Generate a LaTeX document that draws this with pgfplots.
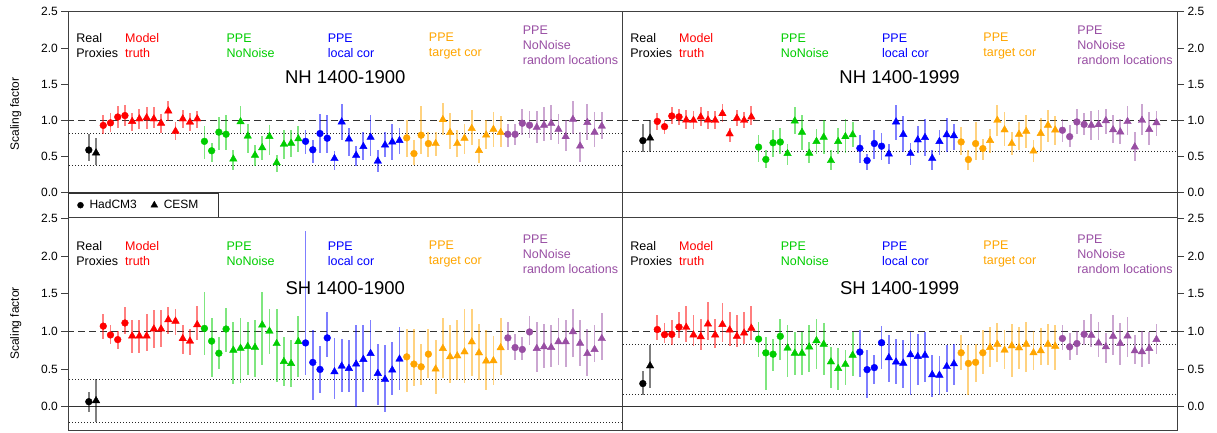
\documentclass[border=0pt]{standalone}
\usepackage{pgfplots}
\pgfplotsset{compat=1.18}
\usepackage{pgfplotstable}
\usepackage{fontspec}
\setmainfont{Liberation Sans}
\definecolor{cRed}{RGB}{255,0,0}
\definecolor{cGreen}{RGB}{0,205,0}
\definecolor{cBlue}{RGB}{0,0,255}
\definecolor{cOrange}{RGB}{255,165,0}
\definecolor{cPurple}{RGB}{152,78,163}

\pgfplotstableread{
i v lo hi
1 0.59 0.44 0.815
2 0.55 0.38 0.75
3 0.93 0.816 1.069
4 0.965 0.839 1.10
5 1.046 0.899 1.198
6 1.066 0.917 1.207
7 0.985 0.853 1.10
8 1.02 0.885 1.161
9 1.035 0.876 1.184
10 1.02 0.899 1.184
11 0.96 0.825 1.092
12 1.13 0.99 1.267
13 0.85 0.724 0.977
14 1.02 0.899 1.147
15 0.975 0.853 1.101
16 1.02 0.899 1.129
17 0.71 0.471 0.917
18 0.58 0.425 0.687
19 0.837 0.586 1.046
20 0.808 0.586 1.069
21 0.465 0.32 0.595
22 0.98 0.825 1.193
23 0.782 0.549 0.954
24 0.518 0.366 0.655
25 0.622 0.448 0.779
26 0.777 0.517 0.931
27 0.415 0.292 0.517
28 0.669 0.471 0.862
29 0.684 0.494 0.871
30 0.745 0.563 0.917
31 0.71 0.54 0.871
32 0.593 0.411 0.733
33 0.818 0.549 1.083
34 0.753 0.549 1.069
35 0.472 0.32 0.577
36 0.978 0.724 1.23
37 0.742 0.503 0.899
38 0.516 0.366 0.641
39 0.638 0.448 0.839
40 0.766 0.503 1.069
41 0.437 0.287 0.586
42 0.659 0.494 0.839
43 0.702 0.448 0.954
44 0.721 0.54 0.899
45 0.758 0.494 1.009
46 0.541 0.379 0.733
47 0.795 0.54 1.193
48 0.679 0.494 0.839
49 0.679 0.503 0.839
50 1.01 0.793 1.239
51 0.832 0.609 1.101
52 0.679 0.494 0.862
53 0.753 0.54 0.954
54 0.887 0.655 1.138
55 0.583 0.411 0.747
56 0.797 0.609 1.0
57 0.875 0.632 1.115
58 0.832 0.632 1.055
59 0.808 0.632 0.954
60 0.807 0.655 0.954
61 0.96 0.793 1.161
62 0.933 0.761 1.129
63 0.903 0.687 1.129
64 0.933 0.715 1.184
65 0.955 0.733 1.207
66 0.875 0.678 1.092
67 0.775 0.577 1.0
68 1.013 0.816 1.267
69 0.645 0.425 0.839
70 0.97 0.724 1.23
71 0.835 0.632 1.115
72 0.92 0.747 1.115
}\tabA

\pgfplotstableread{
i v lo hi
1 0.72 0.566 0.945
2 0.755 0.566 1.0
3 0.985 0.871 1.101
4 0.913 0.816 1.009
5 1.06 0.954 1.184
6 1.048 0.931 1.161
7 1.005 0.885 1.138
8 1.0 0.885 1.129
9 1.046 0.917 1.184
10 1.005 0.885 1.129
11 1.0 0.885 1.129
12 1.093 0.977 1.221
13 0.813 0.701 0.899
14 1.03 0.917 1.147
15 1.0 0.899 1.115
16 1.046 0.931 1.193
17 0.63 0.425 0.793
18 0.46 0.347 0.586
19 0.69 0.494 0.862
20 0.70 0.54 0.899
21 0.542 0.379 0.669
22 0.99 0.816 1.184
23 0.835 0.595 1.069
24 0.546 0.411 0.701
25 0.708 0.54 0.885
26 0.767 0.531 1.0
27 0.444 0.32 0.586
28 0.708 0.54 0.899
29 0.775 0.549 1.023
30 0.80 0.632 0.977
31 0.615 0.411 0.793
32 0.445 0.31 0.54
33 0.68 0.471 0.871
34 0.643 0.448 0.825
35 0.535 0.393 0.678
36 0.978 0.724 1.207
37 0.805 0.563 1.055
38 0.541 0.379 0.687
39 0.73 0.549 0.917
40 0.763 0.503 1.023
41 0.475 0.31 0.595
42 0.708 0.517 0.871
43 0.80 0.563 1.037
44 0.787 0.595 0.954
45 0.702 0.517 0.908
46 0.458 0.32 0.586
47 0.679 0.448 0.977
48 0.61 0.448 0.747
49 0.722 0.549 0.885
50 1.0 0.779 1.207
51 0.868 0.641 1.115
52 0.679 0.517 0.839
53 0.808 0.595 0.977
54 0.849 0.623 1.069
55 0.576 0.425 0.733
56 0.818 0.577 1.037
57 0.932 0.701 1.147
58 0.866 0.655 1.055
59 0.863 0.701 1.023
60 0.775 0.632 0.931
61 0.978 0.816 1.161
62 0.944 0.793 1.101
63 0.932 0.733 1.129
64 0.941 0.733 1.147
65 0.995 0.816 1.161
66 0.87 0.687 1.069
67 0.84 0.678 1.023
68 0.983 0.793 1.193
69 0.633 0.439 0.839
70 1.0 0.793 1.221
71 0.873 0.655 1.115
72 0.967 0.779 1.129
}\tabB

\pgfplotstableread{
i v lo hi
1 0.066 -0.066 0.2
2 0.08 -0.21 0.363
3 1.07 0.903 1.234
4 0.953 0.837 1.079
5 0.891 0.77 1.0
6 1.112 0.969 1.322
7 0.939 0.717 1.146
8 0.939 0.717 1.146
9 0.939 0.735 1.234
10 1.032 0.779 1.278
11 1.032 0.792 1.278
12 1.155 0.969 1.322
13 1.136 0.947 1.3
14 0.904 0.704 1.079
15 0.871 0.682 1.035
16 1.089 0.881 1.344
17 1.04 0.685 1.53
18 0.871 0.40 1.18
19 0.71 0.507 0.92
20 1.032 0.73 1.31
21 0.75 0.30 1.13
22 0.776 0.31 1.18
23 0.80 0.42 1.126
24 0.788 0.40 1.148
25 1.085 0.55 1.53
26 1.004 0.70 1.30
27 0.838 0.33 1.30
28 0.60 0.28 0.93
29 0.573 0.265 0.88
30 0.864 0.397 1.20
31 0.847 0.42 2.33
32 0.588 0.089 1.016
33 0.495 0.185 0.804
34 0.914 0.662 1.258
35 0.464 0.098 0.919
36 0.539 0.199 0.905
37 0.508 0.199 0.883
38 0.566 0.0 1.082
39 0.628 0.199 1.082
40 0.707 0.353 1.148
41 0.442 0.022 0.839
42 0.363 -0.07 0.817
43 0.486 0.155 0.861
44 0.632 0.221 1.06
45 0.662 0.199 1.038
46 0.566 0.274 1.038
47 0.53 0.287 0.839
48 0.698 0.376 1.038
49 0.50 0.168 0.883
50 0.773 0.376 1.183
51 0.662 0.309 1.082
52 0.675 0.353 1.148
53 0.728 0.309 1.303
54 0.861 0.406 1.303
55 0.715 0.353 1.104
56 0.607 0.221 1.016
57 0.611 0.287 0.936
58 0.783 0.42 1.183
59 0.914 0.751 1.126
60 0.786 0.619 0.971
61 0.76 0.619 0.927
62 0.993 0.817 1.201
63 0.773 0.464 1.126
64 0.795 0.508 1.104
65 0.786 0.53 1.082
66 0.863 0.552 1.174
67 0.863 0.53 1.152
68 0.996 0.662 1.303
69 0.842 0.539 1.152
70 0.706 0.406 1.038
71 0.76 0.596 1.082
72 0.905 0.619 1.245
}\tabC

\pgfplotstableread{
i v lo hi
1 0.307 0.161 0.478
2 0.542 0.25 0.824
3 1.025 0.89 1.212
4 0.957 0.845 1.11
5 0.961 0.815 1.146
6 1.058 0.916 1.256
7 1.054 0.859 1.344
8 0.953 0.801 1.212
9 0.93 0.757 1.168
10 1.098 0.881 1.389
11 0.953 0.784 1.168
12 1.092 0.859 1.375
13 1.019 0.801 1.256
14 0.935 0.792 1.212
15 0.979 0.837 1.256
16 1.043 0.881 1.344
17 0.898 0.66 1.124
18 0.715 0.227 0.925
19 0.697 0.478 0.903
20 0.935 0.616 1.168
21 0.778 0.40 1.079
22 0.71 0.417 0.991
23 0.71 0.417 0.991
24 0.793 0.461 1.079
25 0.877 0.506 1.168
26 0.829 0.417 1.11
27 0.595 0.254 0.792
28 0.507 0.219 0.784
29 0.562 0.285 0.757
30 0.683 0.404 0.991
31 0.726 0.395 1.022
32 0.492 0.121 0.748
33 0.519 0.307 0.682
34 0.85 0.506 1.066
35 0.651 0.329 0.947
36 0.594 0.307 0.903
37 0.578 0.254 0.881
38 0.69 0.152 0.991
39 0.666 0.285 0.969
40 0.683 0.329 0.991
41 0.425 0.13 0.682
42 0.418 0.152 0.669
43 0.533 0.196 0.815
44 0.569 0.285 0.837
45 0.716 0.483 0.947
46 0.575 0.152 0.815
47 0.589 0.329 0.837
48 0.716 0.439 1.013
49 0.786 0.528 1.057
50 0.83 0.594 1.11
51 0.751 0.506 1.022
52 0.808 0.395 1.101
53 0.781 0.506 1.057
54 0.83 0.461 1.124
55 0.716 0.483 1.004
56 0.742 0.55 1.049
57 0.83 0.55 1.101
58 0.804 0.492 1.079
59 0.906 0.757 1.079
60 0.795 0.625 0.978
61 0.839 0.682 1.004
62 0.962 0.815 1.155
63 0.949 0.792 1.234
64 0.847 0.66 1.124
65 0.795 0.581 0.978
66 0.936 0.682 1.212
67 0.839 0.55 1.11
68 0.94 0.66 1.19
69 0.742 0.572 0.947
70 0.729 0.528 1.004
71 0.773 0.572 0.991
72 0.892 0.704 1.093
}\tabD

\tikzset{glab/.style={anchor=west, inner sep=0pt, align=left, font=\fontsize{12.5}{15}\selectfont}}

\pgfplotsset{
  circ/.style={mark=*, mark size=3.4pt},
  tri/.style={mark=triangle*, mark size=4.3pt},
  panel/.style={
    scale only axis, anchor=south west,
    xmin=-1.84, xmax=74.84,
    xtick=\empty,
    ytick={0,0.5,1,1.5,2,2.5},
    tick align=outside, major tick length=7pt,
    axis line style={black!75, line width=0.8pt},
    every tick/.style={black!75, line width=0.8pt},
    /pgf/number format/assume math mode=true,
    yticklabel style={/pgf/number format/.cd, fixed, fixed zerofill, precision=1, /tikz/.cd, font=\fontsize{12}{14}\selectfont},
    ylabel style={font=\fontsize{12}{14}\selectfont},
  },
  lpanel/.style={panel, width=554pt, ytick pos=left, ylabel={Scaling factor},
    ylabel style={at={(axis description cs:-0.095,0.5)}, anchor=center}},
  rpanel/.style={panel, width=554.7pt, ytick pos=right, yticklabel pos=right},
  top/.style={height=206pt, ymin=-0.335, ymax=2.51},
  bot/.style={height=213pt, ymin=-0.31, ymax=2.52},
}

\newcommand{\pts}[5]{%
\addplot[forget plot, only marks, #5, color=#2, mark options={solid, draw=#2, fill=#2},
  restrict x to domain=#3:#4,
  error bars/.cd, y dir=both, y explicit, error mark=none,
  error bar style={line width=1.8pt, draw=#2, opacity=0.5, solid}]
  table[x=i, y=v, y error plus expr=\thisrow{hi}-\thisrow{v}, y error minus expr=\thisrow{v}-\thisrow{lo}] {#1};}

\newcommand{\allpts}[1]{%
\pts{#1}{black}{0.5}{1.5}{circ}
\pts{#1}{black}{1.5}{2.5}{tri}
\pts{#1}{cRed}{2.5}{6.5}{circ}
\pts{#1}{cRed}{6.5}{16.5}{tri}
\pts{#1}{cGreen}{16.5}{20.5}{circ}
\pts{#1}{cGreen}{20.5}{30.5}{tri}
\pts{#1}{cBlue}{30.5}{34.5}{circ}
\pts{#1}{cBlue}{34.5}{44.5}{tri}
\pts{#1}{cOrange}{44.5}{48.5}{circ}
\pts{#1}{cOrange}{48.5}{58.5}{tri}
\pts{#1}{cPurple}{58.5}{62.5}{circ}
\pts{#1}{cPurple}{62.5}{72.5}{tri}
}

\newcommand{\hlines}[2]{%
\addplot[forget plot, black!80, line width=0.8pt] coordinates {(-5,0) (80,0)};
\addplot[forget plot, black!80, line width=0.9pt, dash pattern=on 7pt off 4pt] coordinates {(-5,1) (80,1)};
\addplot[forget plot, black!85, line width=0.8pt, dash pattern=on 1pt off 2pt] coordinates {(-5,#1) (80,#1)};
\addplot[forget plot, black!85, line width=0.8pt, dash pattern=on 1pt off 2pt] coordinates {(-5,#2) (80,#2)};
}

\newcommand{\grouplabels}[1]{%
\node[glab, text=black] at (axis cs:-0.75,#1) {Real\\Proxies};
\node[glab, text=cRed] at (axis cs:6,#1) {Model\\truth};
\node[glab, text=cGreen] at (axis cs:20.05,#1) {PPE\\NoNoise};
\node[glab, text=cBlue] at (axis cs:34.05,#1) {PPE\\local cor};
\node[glab, text=cOrange] at (axis cs:48.05,#1) {PPE\\target cor};
\node[glab, text=cPurple] at (axis cs:61.05,#1) {PPE\\NoNoise\\random locations};
}

\begin{document}
\begin{tikzpicture}
\useasboundingbox (0,0) rectangle (1217pt,432pt);

% top left
\begin{axis}[lpanel, top, at={(68.3pt,215pt)},
  legend style={at={(0,0)}, anchor=south west, draw=black!80, fill=white,
    font=\fontsize{12}{14}\selectfont, inner xsep=9pt, inner ysep=4.5pt,
    /tikz/every odd column/.append style={column sep=4pt},
    /tikz/every even column/.append style={column sep=12pt}},
  legend columns=2, legend cell align=left]
\addlegendimage{only marks, mark=*, mark size=3pt, black}
\addlegendentry{HadCM3}
\addlegendimage{only marks, mark=triangle*, mark size=4pt, black}
\addlegendentry{CESM\hspace*{9pt}}
\hlines{0.815}{0.38}
\allpts{\tabA}
\grouplabels{2.03}
\node[font=\fontsize{18.5}{20}\selectfont] at (axis cs:36.5,1.59) {NH 1400-1900};
\end{axis}

% top right
\begin{axis}[rpanel, top, at={(622.3pt,215pt)}]
\hlines{0.566}{0.566}
\allpts{\tabB}
\grouplabels{2.03}
\node[font=\fontsize{18.5}{20}\selectfont] at (axis cs:36.5,1.59) {NH 1400-1999};
\end{axis}

% bottom left
\begin{axis}[lpanel, bot, at={(68.3pt,2pt)}]
\hlines{0.363}{-0.21}
\allpts{\tabC}
\grouplabels{2.03}
\node[font=\fontsize{18.5}{20}\selectfont] at (axis cs:36.5,1.58) {SH 1400-1900};
\end{axis}

% bottom right
\begin{axis}[rpanel, bot, at={(622.3pt,2pt)}]
\hlines{0.824}{0.161}
\allpts{\tabD}
\grouplabels{2.03}
\node[font=\fontsize{18.5}{20}\selectfont] at (axis cs:36.5,1.58) {SH 1400-1999};
\end{axis}
\end{tikzpicture}
\end{document}
